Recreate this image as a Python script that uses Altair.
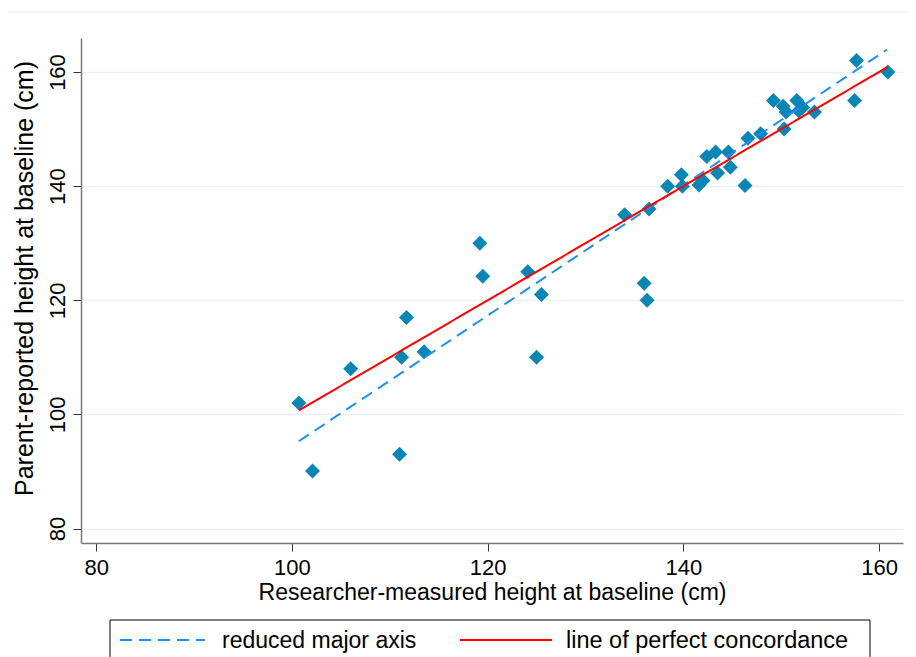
import altair as alt
import pandas as pd

# Researcher-measured (x) vs parent-reported (y) height, cm
measured = [100.7, 102.1, 106.0, 111.0, 111.2, 111.7, 113.5, 119.2, 119.5, 124.1,
            125.5, 125.0, 134.0, 136.0, 136.3, 136.5, 138.4, 139.8, 139.9, 141.6,
            142.0, 142.4, 143.3, 143.5, 144.6, 144.8, 146.3, 146.6, 147.9, 149.2,
            150.2, 150.3, 150.5, 151.6, 151.8, 152.2, 153.4, 157.5, 157.7, 160.9]
reported = [102.0, 90.1, 108.0, 93.0, 110.0, 117.0, 111.0, 130.0, 124.2, 125.0,
            121.0, 110.0, 135.0, 123.0, 120.0, 136.0, 140.0, 142.0, 140.0, 140.2,
            141.0, 145.2, 146.0, 142.3, 146.0, 143.3, 140.1, 148.4, 149.2, 155.0,
            154.0, 150.0, 153.0, 155.0, 153.2, 153.8, 153.0, 155.0, 162.0, 160.0]

# Fitted lines (endpoints)
series_names = ["reduced major axis", "line of perfect concordance"]
series_colors = ["#1e8ff0", "#ff0000"]
series_dash = [[12, 7], [1, 0]]
rma_x = [100.7, 160.8]
rma_y = [95.3, 163.9]
conc_x = [100.7, 160.9]
conc_y = [100.7, 160.9]

x_ticks = [80, 100, 120, 140, 160]
y_ticks = [80, 100, 120, 140, 160]

FONT = "Liberation Sans"

pts = pd.DataFrame({"x": measured, "y": reported})
lines = pd.DataFrame({
    "x": rma_x + conc_x,
    "y": rma_y + conc_y,
    "series": [series_names[0]] * 2 + [series_names[1]] * 2,
})
one = pd.DataFrame({"k": [0]})

xscale = alt.Scale(domain=[78.44, 162.45], nice=False, zero=False)
yscale = alt.Scale(domain=[77.47, 165.96], nice=False, zero=False)

xaxis = alt.Axis(values=x_ticks, title="Researcher-measured height at baseline (cm)",
                 grid=False, labelFontSize=22, titleFontSize=23, labelFont=FONT,
                 titleFont=FONT, titleFontWeight="normal", labelColor="black",
                 titleColor="black", domainColor="#777777", domainWidth=1.5,
                 tickColor="#333333", tickSize=8, labelPadding=6, titlePadding=3)
yaxis = alt.Axis(values=y_ticks, title="Parent-reported height at baseline (cm)",
                 grid=True, gridColor="#eaf1f3", gridWidth=1.5,
                 labelFontSize=22, titleFontSize=25, labelFont=FONT, titleFont=FONT,
                 titleFontWeight="normal", labelColor="black", titleColor="black",
                 labelAngle=270, labelAlign="center", labelBaseline="bottom",
                 domainColor="#777777", domainWidth=1.5, tickColor="#333333",
                 tickSize=8, labelPadding=4, titlePadding=9, titleY=240,
                 titleAlign="center")

points = alt.Chart(pts).mark_point(shape="diamond", filled=True, size=225,
                                   opacity=1, color="#0a86b4").encode(
    x=alt.X("x:Q", scale=xscale, axis=xaxis),
    y=alt.Y("y:Q", scale=yscale, axis=yaxis),
)

line_layer = alt.Chart(lines).mark_line(strokeWidth=2).encode(
    x=alt.X("x:Q", scale=xscale),
    y=alt.Y("y:Q", scale=yscale),
    color=alt.Color("series:N", scale=alt.Scale(domain=series_names,
                                                range=series_colors), legend=None),
    strokeDash=alt.StrokeDash("series:N", scale=alt.Scale(domain=series_names,
                                                          range=series_dash),
                              legend=None),
)

sep = alt.Chart(one).mark_rule(color="#e3eaea", strokeWidth=1).encode(
    x=alt.value(-81), x2=alt.value(835), y=alt.value(-26)
)

# Legend box (drawn by hand, below the plot)
leg_box = alt.Chart(one).mark_rect(fill="white", stroke="black", strokeWidth=1).encode(
    x=alt.value(29), x2=alt.value(789), y=alt.value(582), y2=alt.value(640)
)
leg_line1 = alt.Chart(one).mark_rule(color=series_colors[0], strokeWidth=2,
                                     strokeDash=series_dash[0]).encode(
    x=alt.value(39), x2=alt.value(124), y=alt.value(602)
)
leg_line2 = alt.Chart(one).mark_rule(color=series_colors[1], strokeWidth=2).encode(
    x=alt.value(379), x2=alt.value(471), y=alt.value(602)
)
leg_text1 = alt.Chart(one).mark_text(align="left", baseline="middle", fontSize=23,
                                     font=FONT, color="black").encode(
    x=alt.value(141), y=alt.value(603), text=alt.value(series_names[0])
)
leg_text2 = alt.Chart(one).mark_text(align="left", baseline="middle", fontSize=23.5,
                                     font=FONT, color="black").encode(
    x=alt.value(485), y=alt.value(603), text=alt.value(series_names[1])
)

chart = alt.layer(sep, points, line_layer, leg_box, leg_line1, leg_line2,
                  leg_text1, leg_text2).properties(
    width=822, height=505,
    autosize=alt.AutoSizeParams(type="none"),
    padding={"left": 73, "top": 30, "right": 5, "bottom": 120},
    background="white",
).configure_view(strokeWidth=0, stroke=None)

chart.save("out.html", embed_options={"renderer": "svg", "actions": False})
